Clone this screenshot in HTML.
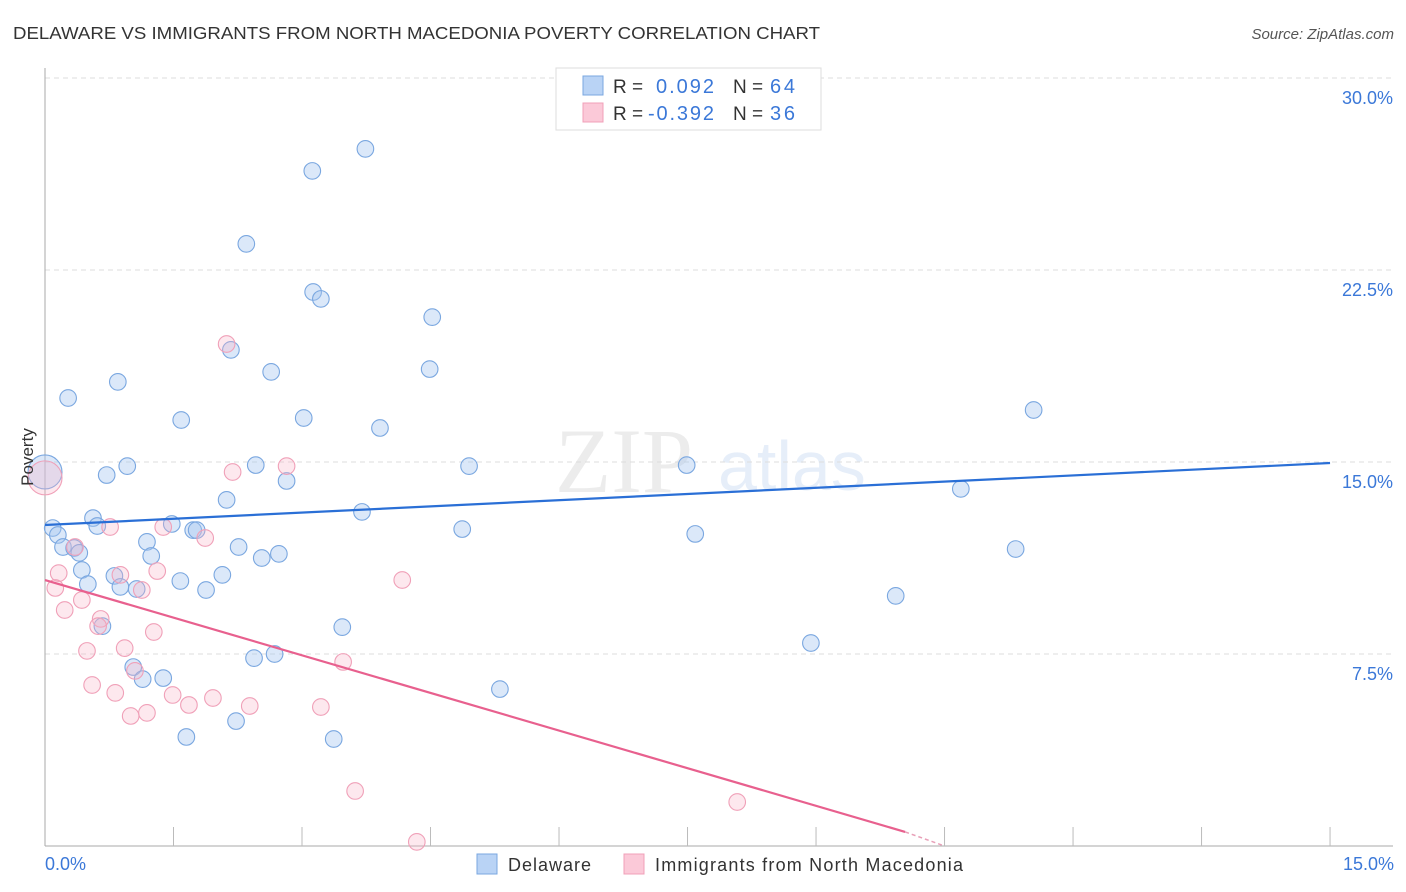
<!DOCTYPE html>
<html><head><meta charset="utf-8"><style>
body{margin:0;background:#fff;font-family:"Liberation Sans",sans-serif;}
svg{display:block}
</style></head><body>
<svg id="chart" width="1406" height="892" xmlns="http://www.w3.org/2000/svg" font-family="Liberation Sans, sans-serif">
<text x="13" y="39" font-size="17.5" fill="#333" textLength="807" lengthAdjust="spacingAndGlyphs">DELAWARE VS IMMIGRANTS FROM NORTH MACEDONIA POVERTY CORRELATION CHART</text>
<text x="1394" y="39" font-size="15" fill="#555" text-anchor="end" font-style="italic">Source: ZipAtlas.com</text>
<g opacity="0.18">
<text x="555" y="492" font-size="92" font-family="Liberation Serif, serif" fill="#999">ZIP</text>
<text x="718" y="490" font-size="70" fill="#7aa7e0">atlas</text>
</g>
<g id="grid"></g>
<g id="axes"></g>
<g id="marks"></g>
<g id="lines"></g>
<text transform="translate(33,457) rotate(-90)" font-size="17" fill="#333" text-anchor="middle">Poverty</text>
<text x="45" y="870" font-size="18" fill="#3b78d8">0.0%</text>
<text x="1394" y="870" font-size="18" fill="#3b78d8" text-anchor="end">15.0%</text>
<g>
<rect x="556" y="68" width="265" height="62" fill="#fff" stroke="#ddd"/>
<rect x="583" y="76" width="20" height="19" fill="#b9d3f5" stroke="#7aa7e0"/>
<rect x="583" y="103" width="20" height="19" fill="#fbc9d8" stroke="#f0a0b8"/>
<text x="613" y="93" font-size="19" fill="#333">R =</text>
<text x="656" y="93" font-size="20" fill="#3b78d8" textLength="58">0.092</text>
<text x="733" y="93" font-size="19" fill="#333">N =</text>
<text x="770" y="93" font-size="20" fill="#3b78d8" textLength="25">64</text>
<text x="613" y="120" font-size="19" fill="#333">R =</text>
<text x="648" y="120" font-size="20" fill="#3b78d8" textLength="66">-0.392</text>
<text x="733" y="120" font-size="19" fill="#333">N =</text>
<text x="770" y="120" font-size="20" fill="#3b78d8" textLength="25">36</text>
</g>
<g>
<rect x="477" y="854" width="20" height="20" fill="#b9d3f5" stroke="#7aa7e0"/>
<text x="508" y="871" font-size="18" fill="#333" textLength="83">Delaware</text>
<rect x="624" y="854" width="20" height="20" fill="#fbc9d8" stroke="#f0a0b8"/>
<text x="655" y="871" font-size="18" fill="#333" textLength="308">Immigrants from North Macedonia</text>
</g>
</svg>
<script>
const yTicks=[7.5,15,22.5,30];
const yTickLabels=["7.5%","15.0%","22.5%","30.0%"];
const xTicks=[1.5,3,4.5,6,7.5,9,10.5,12,13.5,15];
const blueX=[3.74,3.12,2.35,3.13,3.22,4.52,2.17,4.49,2.64,0.85,0.27,1.59,3.02,3.91,11.54,0.96,0.72,2.46,4.95,2.82,7.49,10.69,2.12,3.70,0.56,0.61,1.48,1.73,1.77,0.09,0.15,4.87,7.59,0.21,0.34,0.40,1.19,2.26,1.24,2.73,2.53,11.33,0.43,0.81,2.07,0.50,0.88,1.58,1.07,1.88,9.93,0.67,3.47,8.94,2.44,2.68,1.03,1.14,1.38,5.31,2.23,1.65,3.37];
const blueY=[27.23,26.37,23.52,21.64,21.37,20.66,19.38,18.63,18.52,18.13,17.5,16.64,16.72,16.33,17.03,14.84,14.49,14.88,14.84,14.26,14.88,13.95,13.52,13.05,12.81,12.5,12.58,12.34,12.34,12.42,12.15,12.38,12.19,11.68,11.64,11.45,11.88,11.68,11.33,11.41,11.25,11.6,10.78,10.55,10.59,10.23,10.12,10.35,10.04,10.0,9.77,8.59,8.55,7.93,7.34,7.5,6.99,6.52,6.56,6.13,4.88,4.26,4.18];
const pinkX=[2.12,2.82,2.19,0.76,1.38,1.87,0.35,0.16,0.12,0.88,1.31,1.13,4.17,0.43,0.23,0.65,0.62,1.27,0.93,0.49,3.48,1.05,0.55,0.82,1.49,1.96,1.68,2.39,3.22,1.19,1.0,3.62,8.08,4.34];
const pinkY=[19.61,14.84,14.61,12.46,12.46,12.03,11.68,10.66,10.08,10.59,10.74,10.0,10.39,9.61,9.22,8.87,8.59,8.36,7.73,7.62,7.19,6.84,6.29,5.98,5.9,5.78,5.51,5.47,5.43,5.2,5.08,2.15,1.72,0.16];
const bigBlue=[0,14.61], bigPink=[0,14.38];
const blueTrend=[0,12.54,15,14.96];
const pinkTrend=[0,10.39,10.04,0.55,10.5,0.0];
const NS="http://www.w3.org/2000/svg";
const X=v=>45+v*85.67, Y=v=>846-v*25.6;
function mk(t,a,p){const e=document.createElementNS(NS,t);for(const k in a)e.setAttribute(k,a[k]);p.appendChild(e);return e;}
const grid=document.getElementById('grid'),axes=document.getElementById('axes'),marks=document.getElementById('marks'),lines=document.getElementById('lines');
yTicks.forEach((t,i)=>{
 const l=mk('line',{x1:45,x2:1393,y1:Y(t),y2:Y(t),stroke:'#ddd','stroke-dasharray':'5,4'},grid);
 
 
 const tx=mk('text',{x:1393,y:Y(t)+26,'font-size':18,fill:'#3b78d8','text-anchor':'end'},axes);
 tx.textContent=yTickLabels[i];
 
 
});
mk('line',{x1:45,x2:45,y1:68,y2:846,stroke:'#aaa'},axes);
mk('line',{x1:45,x2:1393,y1:846,y2:846,stroke:'#aaa'},axes);
xTicks.forEach(t=>{
 const l=mk('line',{x1:X(t),x2:X(t),y1:827,y2:846,stroke:'#bbb'},axes);
 
 
});
function dot(x,y,r,fill,stroke,name){
 const c=mk('circle',{cx:X(x),cy:Y(y),r:r,fill:fill,stroke:stroke,'stroke-width':1.1},marks);
 
 
}
blueX.forEach((x,i)=>dot(x,blueY[i],8.3,'rgba(164,198,240,0.4)','#7aa7e0','delaware-point'));
pinkX.forEach((x,i)=>dot(x,pinkY[i],8.3,'rgba(248,180,200,0.3)','#f0a0b8','macedonia-point'));
dot(bigBlue[0],bigBlue[1],17,'rgba(164,198,240,0.4)','#7aa7e0','delaware-point');
dot(bigPink[0],bigPink[1],17,'rgba(248,180,200,0.3)','#f0a0b8','macedonia-point');
const bl=mk('line',{x1:X(blueTrend[0]),y1:Y(blueTrend[1]),x2:X(blueTrend[2]),y2:Y(blueTrend[3]),stroke:'#2a6fd6','stroke-width':2.2},lines);


const pl=mk('line',{x1:X(pinkTrend[0]),y1:Y(pinkTrend[1]),x2:X(pinkTrend[2]),y2:Y(pinkTrend[3]),stroke:'#e8608e','stroke-width':2.2},lines);


const pd=mk('line',{x1:X(pinkTrend[2]),y1:Y(pinkTrend[3]),x2:X(pinkTrend[4]),y2:Y(pinkTrend[5]),stroke:'#e8a0b8','stroke-width':1.5,'stroke-dasharray':'4,3'},lines);


</script>
</body></html>
